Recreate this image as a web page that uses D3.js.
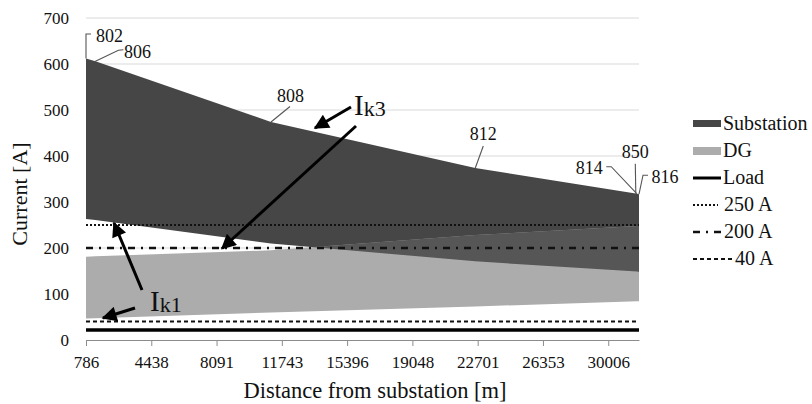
<!DOCTYPE html>
<html>
<head>
<meta charset="utf-8">
<script src="https://cdn.jsdelivr.net/npm/d3@7"></script>
<style>
  body { margin: 0; background: #fff; }
  svg text { font-family: "Liberation Serif", "Times New Roman", serif; fill: #111; }
</style>
</head>
<body>
<div id="chart"></div>
<script>
// nodes along the main feeder
var nodeNames = ['802', '806', '808', '812', '814', '850', '816'];
var nodeDist = [786, 1313, 11137, 22567, 31629, 31632, 31727];

// short-circuit currents [A]
var subIk3 = [612, 606, 474, 374, 318, 318, 317];
var subIk1 = [263, 261, 210, 171, 149, 149, 148];
var dgIk3 = [181, 182, 195, 228, 248, 248, 248];
var dgIk1 = [47, 47.5, 60, 73, 84, 84, 84];
var loadCurrent = 22;

var limitNames = ['250 A', '200 A', '40 A'];
var limitValues = [250, 200, 40];

var xTicks = [786, 4438, 8091, 11743, 15396, 19048, 22701, 26353, 30006];
var yTicks = [0, 100, 200, 300, 400, 500, 600, 700];

var width = 812, height = 404;
var margin = {top: 18, right: 173, bottom: 64, left: 86};

var svg = d3.select('#chart')
  .append('svg')
  .attr('width', width)
  .attr('height', height);

svg.append('rect').attr('width', width).attr('height', height).attr('fill', '#fff');

var x = d3.scaleLinear()
  .domain([nodeDist[0], nodeDist[nodeDist.length - 1]])
  .range([margin.left, width - margin.right]);

var y = d3.scaleLinear()
  .domain([0, 700])
  .range([height - margin.bottom, margin.top]);

var data = nodeDist.map(function(d, i) {
  return {dist: d, s3: subIk3[i], s1: subIk1[i], d3: dgIk3[i], d1: dgIk1[i]};
});

// gridlines
svg.append('g')
  .selectAll('line')
  .data(yTicks.slice(1))
  .enter().append('line')
  .attr('x1', x.range()[0])
  .attr('x2', x.range()[1])
  .attr('y1', function(d) { return y(d); })
  .attr('y2', function(d) { return y(d); })
  .attr('stroke', '#d9d9d9')
  .attr('stroke-width', 1);

var subArea = d3.area()
  .x(function(d) { return x(d.dist); })
  .y0(function(d) { return y(d.s1); })
  .y1(function(d) { return y(d.s3); });

var dgArea = d3.area()
  .x(function(d) { return x(d.dist); })
  .y0(function(d) { return y(d.d1); })
  .y1(function(d) { return y(d.d3); });

var subColor = '#464646';
var dgColor = '#acacac';
var overlapColor = '#565656';

var defs = svg.append('defs');
defs.append('clipPath').attr('id', 'sub-clip')
  .append('path').datum(data).attr('d', subArea);

svg.append('path').datum(data).attr('d', subArea).attr('fill', subColor);
svg.append('path').datum(data).attr('d', dgArea).attr('fill', dgColor);
// where the two bands overlap
svg.append('path').datum(data).attr('d', dgArea).attr('fill', overlapColor)
  .attr('clip-path', 'url(#sub-clip)');

// x axis
var xAxis = svg.append('g')
  .attr('transform', 'translate(0,' + y(0) + ')')
  .call(d3.axisBottom(x).tickValues(xTicks).tickSize(6).tickSizeOuter(0).tickFormat(function(d) { return d; }));
xAxis.select('.domain').attr('stroke', '#8c8c8c');
xAxis.selectAll('.tick line').attr('stroke', '#8c8c8c');
xAxis.selectAll('.tick text')
  .attr('dy', 0).attr('y', 28)
  .style('font-size', '17px')
  .style('font-family', '"Liberation Serif", serif')
  .attr('fill', '#111');

// y axis labels
var yAxis = svg.append('g')
  .attr('transform', 'translate(' + margin.left + ',0)')
  .call(d3.axisLeft(y).tickValues(yTicks).tickSize(0).tickPadding(17));
yAxis.select('.domain').remove();
yAxis.selectAll('.tick text')
  .style('font-size', '17px')
  .style('font-family', '"Liberation Serif", serif')
  .attr('fill', '#111');

// axis titles
svg.append('text')
  .attr('x', 375)
  .attr('y', 398)
  .attr('text-anchor', 'middle')
  .style('font-size', '22.5px')
  .text('Distance from substation [m]');

svg.append('text')
  .attr('transform', 'translate(27,194) rotate(-90)')
  .attr('text-anchor', 'middle')
  .style('font-size', '22px')
  .text('Current [A]');

// limit and load lines
var limitDash = ['2,2', '7,6,2,6', '4,3'];
var limitWidth = [2, 2.5, 2];
limitValues.forEach(function(v, i) {
  svg.append('line')
    .attr('x1', x.range()[0]).attr('x2', x.range()[1])
    .attr('y1', y(v)).attr('y2', y(v))
    .attr('stroke', '#111')
    .attr('stroke-width', limitWidth[i])
    .attr('stroke-dasharray', limitDash[i]);
});
svg.append('line')
  .attr('x1', x.range()[0]).attr('x2', x.range()[1])
  .attr('y1', y(loadCurrent)).attr('y2', y(loadCurrent))
  .attr('stroke', '#000')
  .attr('stroke-width', 3.5);

// node labels with leader lines (offsets from the Ik3 point)
var leaders = [
  [[0, 0], [0, -24.5], [5, -24.5]],
  [[-1, 0.5], [23, -11], [28, -11.5]],
  [[0, 0], [19, -15.5]],
  [[0, 0], [8, -22]],
  [[-0.5, 0], [-26, -27], [-31, -27]],
  [[-1.5, 0], [-2, -30]],
  [[0, 0], [4, -19], [9, -19]]
];
var labelOffsets = [[10, -16, 'start'], [28.6, -3, 'start'], [6, -20, 'start'], [-5.5, -28, 'start'],
  [-34.5, -20, 'end'], [-2, -36, 'middle'], [12.4, -11, 'start']];

nodeNames.forEach(function(n, i) {
  var px = x(nodeDist[i]), py = y(subIk3[i]);
  svg.append('path')
    .attr('d', d3.line()(leaders[i].map(function(p) { return [px + p[0], py + p[1]]; })))
    .attr('fill', 'none')
    .attr('stroke', '#555')
    .attr('stroke-width', 1.1);
  svg.append('text')
    .attr('x', px + labelOffsets[i][0])
    .attr('y', py + labelOffsets[i][1])
    .attr('text-anchor', labelOffsets[i][2])
    .style('font-size', '18px')
    .text(n);
});

// arrows
defs.append('marker')
  .attr('id', 'arrow')
  .attr('viewBox', '0 0 10 10')
  .attr('refX', 9).attr('refY', 5)
  .attr('markerWidth', 5.5).attr('markerHeight', 5)
  .attr('markerUnits', 'strokeWidth')
  .attr('orient', 'auto')
  .append('path')
  .attr('d', 'M0,0 L10,5 L0,10 Z')
  .attr('fill', '#000');

var arrows = [
  [[351, 107], [315, 128]],
  [[356, 126], [222, 248.5]],
  [[142, 290], [114, 223]],
  [[135, 308], [103, 318]]
];
arrows.forEach(function(a) {
  svg.append('line')
    .attr('x1', a[0][0]).attr('y1', a[0][1])
    .attr('x2', a[1][0]).attr('y2', a[1][1])
    .attr('stroke', '#000')
    .attr('stroke-width', 3)
    .attr('marker-end', 'url(#arrow)');
});

function ikLabel(px, py, sub) {
  var t = svg.append('text').attr('x', px).attr('y', py);
  t.append('tspan').style('font-size', '29px').text('I');
  t.append('tspan').style('font-size', '22px').attr('dy', 1).text(sub);
}
ikLabel(354, 115, 'k3');
ikLabel(150, 310.5, 'k1');

// legend
var legend = svg.append('g').attr('transform', 'translate(693,130)');
var legendItems = ['Substation', 'DG', 'Load'].concat(limitNames);
legendItems.forEach(function(name, i) {
  var g = legend.append('g').attr('transform', 'translate(0,' + (i * 27) + ')');
  var textX = 30;
  if (i == 0) {
    g.append('rect').attr('x', 0).attr('y', -10).attr('width', 28).attr('height', 7).attr('fill', subColor);
  } else if (i == 1) {
    g.append('rect').attr('x', 0).attr('y', -10).attr('width', 28).attr('height', 8).attr('fill', dgColor);
  } else if (i == 2) {
    g.append('line').attr('x1', 0).attr('x2', 28).attr('y1', -6).attr('y2', -6)
      .attr('stroke', '#000').attr('stroke-width', 3);
  } else {
    var k = i - 3;
    var len = [25, 30, 40][k];
    textX = [31, 31, 42][k];
    g.append('line').attr('x1', 0).attr('x2', len).attr('y1', -6).attr('y2', -6)
      .attr('stroke', '#111').attr('stroke-width', limitWidth[k])
      .attr('stroke-dasharray', limitDash[k]);
  }
  g.append('text')
    .attr('x', textX)
    .attr('y', 0)
    .style('font-size', '20px')
    .text(name);
});
</script>
</body>
</html>
